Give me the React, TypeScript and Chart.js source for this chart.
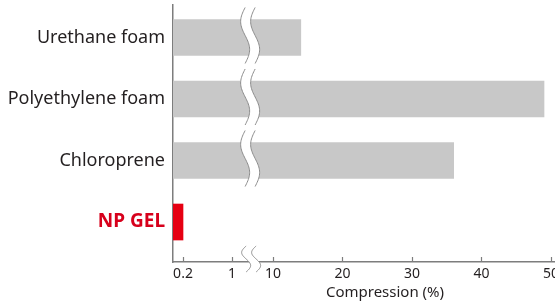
import React, { useEffect, useRef } from "react";
import { Chart, registerables } from "chart.js";

Chart.register(...registerables);

// ---- data ----
const categories = ["Urethane foam", "Polyethylene foam", "Chloroprene", "NP GEL"];
const compression = [14, 49, 36, 0.2];
const tickValues = [0.2, 1, 10, 20, 30, 40, 50];
const tickLabels = ["0.2", "1", "10", "20", "30", "40", "50"];
const axisTitle = "Compression (%)";

// ---- broken-axis mapping (value -> axis units) ----
const MAP_VALUES = [0, 0.2, 1, 10, 50];
const MAP_UNITS = [0, 1.44, 8.49, 14.39, 54.39];
const AXIS_MAX = 54.97;
const BREAK_AT = 11.1;

function toAxis(v: number): number {
  for (let i = 1; i < MAP_VALUES.length; i++) {
    if (v <= MAP_VALUES[i] || i === MAP_VALUES.length - 1) {
      const a = MAP_VALUES[i - 1], b = MAP_VALUES[i];
      const ua = MAP_UNITS[i - 1], ub = MAP_UNITS[i];
      return ua + ((v - a) / (b - a)) * (ub - ua);
    }
  }
  return v;
}

const FONT = "'Noto Sans', 'DejaVu Sans', sans-serif";
const GREY = "#c8c8c8";
const RED = "#e60012";
const AXIS_COLOR = "#7d7d7d";
const TEXT = "#231f20";

function squiggle(ctx: CanvasRenderingContext2D, cx: number, top: number, bottom: number) {
  const N = 40;
  const amp = 4.5;
  const half = 5;
  const left: [number, number][] = [];
  const right: [number, number][] = [];
  for (let i = 0; i <= N; i++) {
    const t = i / N;
    const y = top + t * (bottom - top);
    const off = -amp * Math.sin(2 * Math.PI * t);
    left.push([cx - half + off, y]);
    right.push([cx + half + off, y]);
  }
  ctx.save();
  ctx.beginPath();
  left.forEach(([x, y], i) => (i === 0 ? ctx.moveTo(x, y) : ctx.lineTo(x, y)));
  for (let i = right.length - 1; i >= 0; i--) ctx.lineTo(right[i][0], right[i][1]);
  ctx.closePath();
  ctx.fillStyle = "#ffffff";
  ctx.fill();
  ctx.strokeStyle = "#8c8c8c";
  ctx.lineWidth = 1;
  [left, right].forEach((pts) => {
    ctx.beginPath();
    pts.forEach(([x, y], i) => (i === 0 ? ctx.moveTo(x, y) : ctx.lineTo(x, y)));
    ctx.stroke();
  });
  ctx.restore();
}

const breakPlugin = {
  id: "breakPlugin",
  afterDraw(chart: any) {
    const ctx: CanvasRenderingContext2D = chart.ctx;
    const xs = chart.scales.x;
    const area = chart.chartArea;
    const bx = xs.getPixelForValue(BREAK_AT);

    // inward tick marks
    ctx.save();
    ctx.strokeStyle = AXIS_COLOR;
    ctx.lineWidth = 1.2;
    xs.ticks.forEach((t: any) => {
      const px = Math.round(xs.getPixelForValue(t.value)) + 0.5;
      ctx.beginPath();
      ctx.moveTo(px, area.bottom);
      ctx.lineTo(px, area.bottom - 5);
      ctx.stroke();
    });
    ctx.restore();

    // breaks across long bars
    const meta = chart.getDatasetMeta(0);
    meta.data.forEach((el: any) => {
      if (el.x > bx + 10) {
        const h = el.height;
        squiggle(ctx, bx, el.y - h / 2 - 12, el.y + h / 2 + 8);
      }
    });
    // break on the axis
    squiggle(ctx, bx + 1, area.bottom - 16, area.bottom + 10);

    // axis title
    ctx.save();
    ctx.fillStyle = TEXT;
    ctx.font = `15px ${FONT}`;
    ctx.textAlign = "center";
    ctx.textBaseline = "middle";
    ctx.fillText(axisTitle, area.left + 0.555 * (area.right - area.left), area.bottom + 31);
    ctx.restore();
  },
};

export default function App() {
  const ref = useRef<HTMLCanvasElement | null>(null);

  useEffect(() => {
    document.body.style.margin = "0";
    if (!ref.current) return;
    const chart = new Chart(ref.current, {
      type: "bar",
      data: {
        datasets: [
          {
            data: compression.map((v, i) => ({ x: toAxis(v), y: i })) as any,
            backgroundColor: compression.map((_, i) => (i === categories.length - 1 ? RED : GREY)),
            borderWidth: 0,
            barThickness: 36,
          },
        ],
      },
      options: {
        animation: false,
        responsive: true,
        maintainAspectRatio: false,
        indexAxis: "y",
        layout: { padding: { top: 5, right: 0, left: 0, bottom: 0 } },
        plugins: { legend: { display: false }, tooltip: { enabled: false } },
        scales: {
          x: {
            type: "linear",
            min: 0,
            max: AXIS_MAX,
            offset: false,
            grid: { display: false, drawTicks: false },
            border: { display: true, color: AXIS_COLOR, width: 1.5 },
            afterBuildTicks: (scale: any) => {
              scale.ticks = tickValues.map((v) => ({ value: toAxis(v) }));
            },
            afterFit: (scale: any) => {
              scale.height = 41;
              scale.paddingLeft = 0;
              scale.paddingRight = 0;
            },
            ticks: {
              autoSkip: false,
              maxRotation: 0,
              padding: 4,
              color: TEXT,
              font: { family: FONT, size: 14 },
              callback: (_v: any, i: number) => tickLabels[i],
            },
          },
          y: {
            type: "linear",
            min: -0.528,
            max: 3.65,
            reverse: true,
            offset: false,
            grid: { display: false, drawTicks: false, offset: false },
            border: { display: true, color: AXIS_COLOR, width: 1.5 },
            afterBuildTicks: (scale: any) => {
              scale.ticks = categories.map((_, i) => ({ value: i }));
            },
            afterFit: (scale: any) => {
              scale.width = 173;
              scale.paddingTop = 0;
              scale.paddingBottom = 0;
            },
            ticks: {
              autoSkip: false,
              padding: 8,
              color: (c: any) => (c.index === categories.length - 1 ? "#d7001c" : TEXT),
              font: (c: any) =>
                c.index === categories.length - 1
                  ? { family: FONT, size: 19, weight: "bold" }
                  : { family: FONT, size: 18 },
              callback: (_v: any, i: number) => categories[i],
            },
          },
        },
      },
      plugins: [breakPlugin],
    });
    return () => chart.destroy();
  }, []);

  return (
    <div style={{ width: 555, height: 303, position: "relative" }}>
      <canvas ref={ref} />
    </div>
  );
}
